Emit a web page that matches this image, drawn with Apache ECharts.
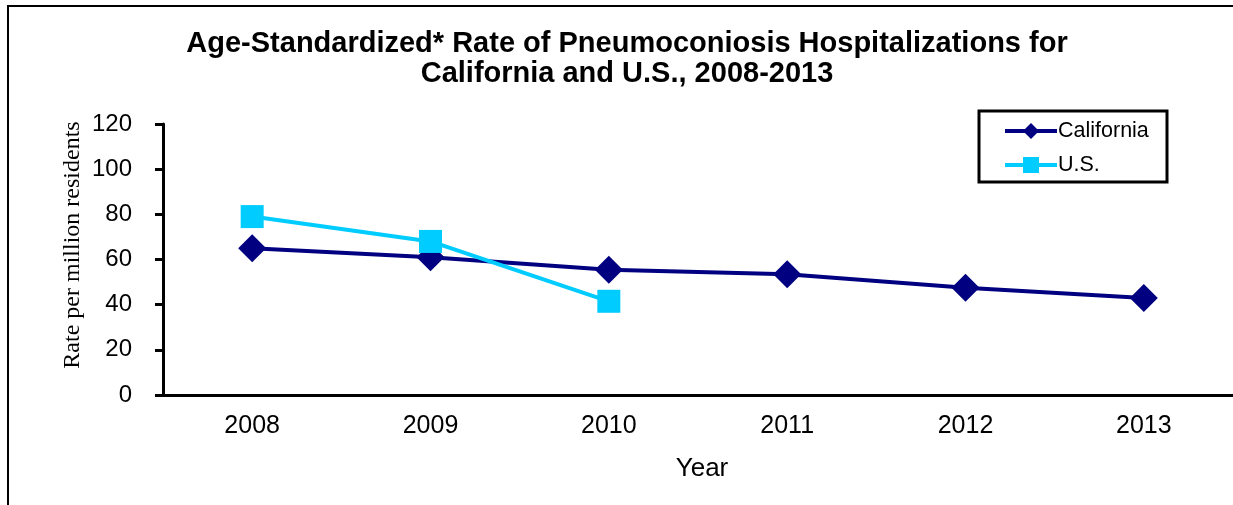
<!DOCTYPE html>
<html>
<head>
<meta charset="utf-8">
<script src="https://cdn.jsdelivr.net/npm/echarts@6/dist/echarts.min.js"></script>
<style>
  html, body { margin: 0; padding: 0; background: #fff; }
  #chart { width: 1233px; height: 505px; }
</style>
</head>
<body>
<div id="chart"></div>
<script>
// data
var years = ["2008", "2009", "2010", "2011", "2012", "2013"];
var california = [65, 61, 55.5, 53.5, 47.5, 43];
var us = [79, 68, 41.5, null, null, null];
var yTicks = { min: 0, max: 120, step: 20 };

var sans = "Liberation Sans";
var serif = "Liberation Serif";

var myChart = echarts.init(document.getElementById("chart"));

var option = {
  animation: false,
  backgroundColor: "#fff",
  graphic: [
    // outer frame (only left/top edges visible)
    {
      type: "rect",
      shape: { x: 8, y: 6, width: 1240, height: 520 },
      style: { fill: "none", stroke: "#000", lineWidth: 2 },
      z: 0,
    },
    // title
    {
      type: "text",
      x: 627,
      y: 29,
      style: {
        text: "Age-Standardized* Rate of Pneumoconiosis Hospitalizations for\nCalifornia and U.S., 2008-2013",
        textAlign: "center",
        fontFamily: sans,
        fontWeight: "bold",
        fontSize: 29,
        lineHeight: 30,
        fill: "#000",
      },
    },
    // y axis title (sits a bit above the axis middle in the reference)
    {
      type: "text",
      x: 73,
      y: 245,
      rotation: Math.PI / 2,
      style: {
        text: "Rate per million residents",
        textAlign: "center",
        textVerticalAlign: "middle",
        fontFamily: serif,
        fontSize: 24,
        fill: "#000",
      },
    },
    // legend box
    {
      type: "rect",
      shape: { x: 979, y: 111, width: 188, height: 71 },
      style: { fill: "#fff", stroke: "#000", lineWidth: 3 },
      z: 1,
    },
  ],
  legend: {
    orient: "vertical",
    left: 998,
    top: 115,
    itemWidth: 52,
    itemHeight: 20,
    itemGap: 12,
    z: 5,
    lineStyle: { width: 4 },
    textStyle: { fontFamily: sans, fontSize: 21.5, color: "#000", padding: [0, 0, 0, -4] },
    data: ["California", "U.S."],
  },
  grid: {
    left: 163,
    top: 124,
    width: 1073,
    height: 271,
  },
  xAxis: {
    type: "category",
    data: years,
    boundaryGap: true,
    name: "Year",
    nameLocation: "middle",
    nameGap: 61,
    nameTextStyle: { fontFamily: sans, fontSize: 26, color: "#000", padding: [0, 0, 0, 8] },
    axisLine: { lineStyle: { color: "#000", width: 3 } },
    axisTick: { length: 8, lineStyle: { color: "#000", width: 2 } },
    axisLabel: { fontFamily: sans, fontSize: 25, color: "#000", margin: 19 },
  },
  yAxis: {
    type: "value",
    min: yTicks.min,
    max: yTicks.max,
    interval: yTicks.step,
    splitLine: { show: false },
    axisLine: { show: true, lineStyle: { color: "#000", width: 3 } },
    axisTick: { show: true, length: 8, lineStyle: { color: "#000", width: 3 } },
    axisLabel: { fontFamily: sans, fontSize: 24, color: "#000", margin: 31 },
  },
  series: [
    {
      name: "California",
      type: "line",
      data: california,
      symbol: "diamond",
      symbolSize: 28,
      lineStyle: { color: "#000080", width: 4 },
      itemStyle: { color: "#000080" },
      z: 3,
    },
    {
      name: "U.S.",
      type: "line",
      data: us,
      symbol: "rect",
      symbolSize: 23,
      lineStyle: { color: "#00CCFF", width: 4 },
      itemStyle: { color: "#00CCFF" },
      z: 4,
    },
  ],
};

myChart.setOption(option);
</script>
</body>
</html>
